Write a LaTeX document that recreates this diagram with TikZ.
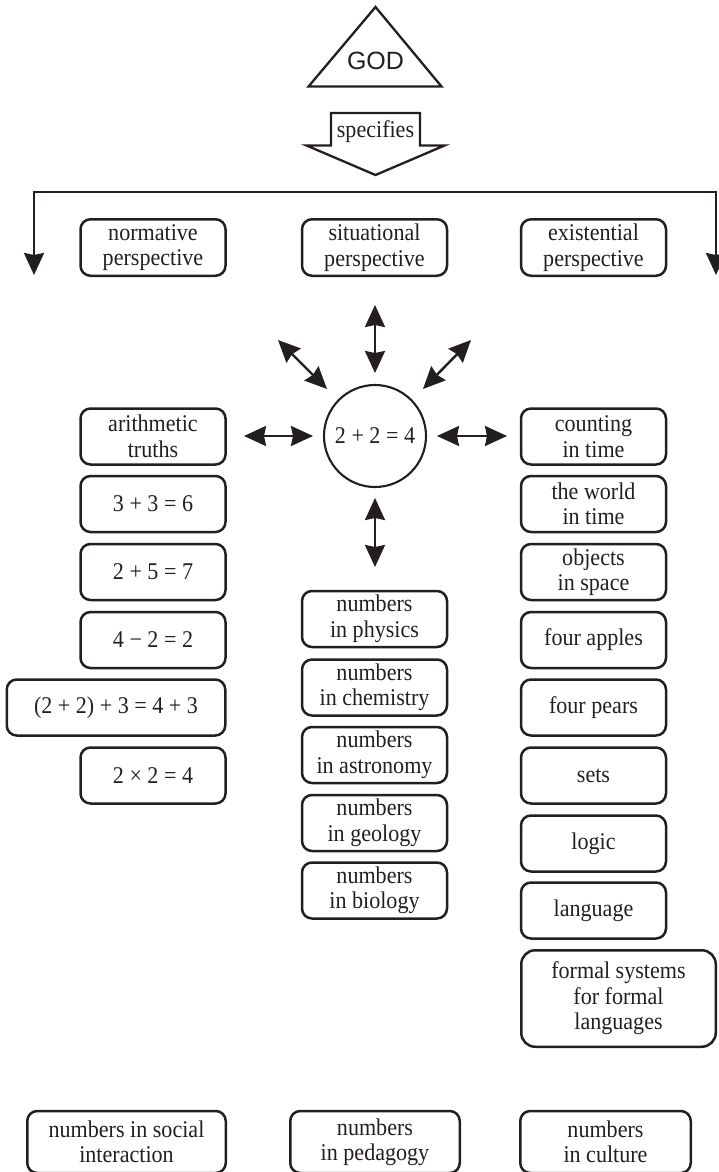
\documentclass[tikz,border=0pt]{standalone}
\usepackage{fontspec}
\setmainfont[FakeStretch=0.92]{Liberation Serif}
\newfontfamily\godfont{Liberation Sans}
\usetikzlibrary{arrows.meta}
\definecolor{ink}{RGB}{35,31,32}
\tikzset{
  box/.style={draw=ink, text=ink, rounded corners=10pt, line width=2.5pt, align=center,
    inner sep=0pt, font=\fontsize{24}{25.5}\selectfont, minimum height=56pt, minimum width=145pt},
  conn/.style={draw=ink, line width=2.4pt},
  tipd/.tip={Stealth[length=22pt,width=20pt,inset=2pt]},
  dbl/.style={conn, tipd-tipd},
}
\begin{document}
\begin{tikzpicture}[x=1pt,y=-1pt]
\useasboundingbox (0,0) rectangle (719,1172);
% GOD triangle
\draw[ink, line width=2.3pt, line join=miter] (308.5,86.5) -- (375.5,7) -- (441.5,86.5) -- cycle;
\node[text=ink, font=\godfont\fontsize{25}{25}\selectfont, inner sep=0pt] (god) at (375.5,60.5) {GOD};
% specifies arrow
\draw[ink, line width=2.3pt, line join=miter] (331,113) -- (420,113) -- (420,145.5) -- (444.5,145.5)
  -- (375.5,175) -- (306.5,145.5) -- (331,145.5) -- cycle;
\node[text=ink, font=\fontsize{24}{25}\selectfont, inner sep=0pt] (spec) at (375.5,132) {specifies};
% bracket with two arrows
\coordinate (TL) at (34,192);
\coordinate (TR) at (716,192);
\coordinate (AL) at (34,275);
\coordinate (AR) at (716,275);
\draw[conn, -tipd] (TL) -- (AL);
\draw[conn, -tipd] (TR) -- (AR);
\draw[conn] ([xshift=-1.2pt]TL) -- ([xshift=1.2pt]TR);
% perspectives
\node[box, minimum height=56.5pt] (norm) at (153,247.5) {normative\\perspective};
\node[box, minimum height=56.5pt] (sit) at (374.5,247.5) {situational\\perspective};
\node[box, minimum height=56.5pt] (exi) at (593.5,247.5) {existential\\perspective};
% centre
\node[draw=ink, text=ink, circle, line width=2.1pt, minimum size=102pt, inner sep=0pt,
  font=\fontsize{24}{25}\selectfont] (c) at (375,436) {2 + 2 = 4};
\coordinate (u1) at (375,373); \coordinate (u2) at (375,305);
\coordinate (ul1) at (327,389); \coordinate (ul2) at (278,340);
\coordinate (ur1) at (423,389); \coordinate (ur2) at (471,340);
\coordinate (l1) at (313,436); \coordinate (l2) at (244,436);
\coordinate (r1) at (437,436); \coordinate (r2) at (507,436);
\coordinate (d1) at (375,498); \coordinate (d2) at (375,567);
\draw[dbl] (u1) -- (u2);
\draw[dbl] (ul1) -- (ul2);
\draw[dbl] (ur1) -- (ur2);
\draw[dbl] (l1) -- (l2);
\draw[dbl] (r1) -- (r2);
\draw[dbl] (d1) -- (d2);
% left column
\node[box] (a1) at (153,436.5) {arithmetic\\truths};
\node[box] (a2) at (153,504) {3 + 3 = 6};
\node[box] (a3) at (153,572) {2 + 5 = 7};
\node[box] (a4) at (153,640) {4 − 2 = 2};
\node[box, minimum width=218.5pt] (a5) at (116,707.5) {(2 + 2) + 3 = 4 + 3};
\node[box] (a6) at (153,775.5) {2 × 2 = 4};
% middle column
\node[box] (m1) at (374.5,619) {numbers\\in physics};
\node[box] (m2) at (374.5,687.5) {numbers\\in chemistry};
\node[box] (m3) at (374.5,755) {numbers\\in astronomy};
\node[box] (m4) at (374.5,823) {numbers\\in geology};
\node[box] (m5) at (374.5,890.5) {numbers\\in biology};
% right column
\node[box] (e1) at (593.5,436.5) {counting\\in time};
\node[box] (e2) at (593.5,504) {the world\\in time};
\node[box] (e3) at (593.5,572) {objects\\in space};
\node[box] (e4) at (593.5,640) {four apples};
\node[box] (e5) at (593.5,707.5) {four pears};
\node[box] (e6) at (593.5,775.5) {sets};
\node[box] (e7) at (593.5,843.5) {logic};
\node[box] (e8) at (593.5,910.5) {language};
\node[box, minimum width=194.5pt, minimum height=96.5pt, rounded corners=14pt] (e9) at (618.5,998.5) {formal systems\\for formal\\languages};
% bottom row
\node[box, minimum width=198.5pt, minimum height=62pt] (b1) at (126.5,1142) {numbers in social\\interaction};
\node[box, minimum width=169.5pt, minimum height=62pt] (b2) at (375,1142) {numbers\\in pedagogy};
\node[box, minimum width=170.5pt, minimum height=62pt] (b3) at (605.5,1142) {numbers\\in culture};
\end{tikzpicture}
\end{document}
